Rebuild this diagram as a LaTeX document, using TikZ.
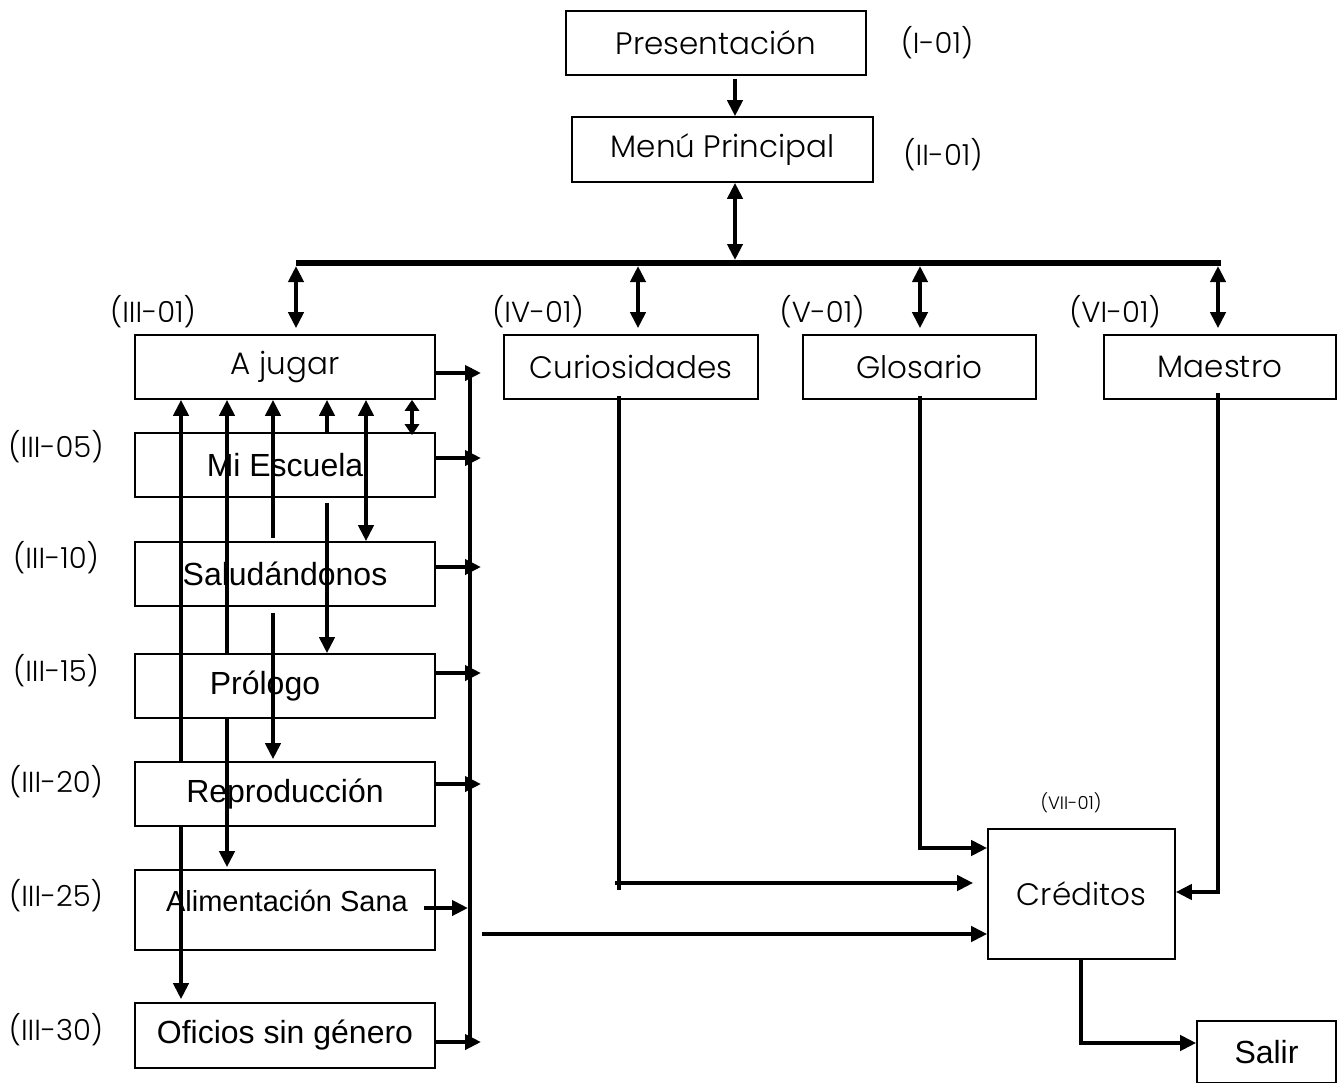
\documentclass[tikz,border=0pt]{standalone}
\usepackage{fontspec}
\newfontfamily\thinf{Poppins}[UprightFont={* Light}]
\newfontfamily\arialf{Liberation Sans}
\usetikzlibrary{arrows.meta}
\tikzset{
  box/.style={draw, line width=1.6pt, fill=white, inner sep=0pt, minimum width=#1},
  thintxt/.style={font=\thinf\fontsize{31}{36}\selectfont, inner sep=0pt},
  lbltxt/.style={font=\thinf\fontsize{29}{34}\selectfont, inner sep=0pt},
  smalltxt/.style={font=\thinf\fontsize{18}{22}\selectfont, inner sep=0pt},
  arialtxt/.style={font=\arialf\fontsize{32}{38}\selectfont, inner sep=0pt},
  conn/.style={line width=4pt},
  arr/.style={line width=4pt, -{Triangle[length=16pt,width=15pt]}},
  darr/.style={line width=4pt, {Triangle[length=16pt,width=15pt]}-{Triangle[length=16pt,width=15pt]}},
  sdarr/.style={line width=4pt, {Triangle[length=11pt,width=14pt]}-{Triangle[length=11pt,width=14pt]}},
}
\begin{document}
\begin{tikzpicture}[x=1pt,y=-1pt]
\useasboundingbox (0,0) rectangle (1344,1082);
% ---- boxes
\node[box=300pt, minimum height=64pt, thintxt] (pres) at (716,43) {Presentación};
\node[box=301pt, minimum height=65pt, thintxt] (menu) at (722.5,149.5) {Menú Principal};
\node[box=300pt, minimum height=64pt, thintxt] (ajugar) at (285,367) {A jugar};
\node[box=254pt, minimum height=64pt, thintxt] (curio) at (631,367) {Curiosidades};
\node[box=233pt, minimum height=64pt, thintxt] (glos) at (919.5,367) {Glosario};
\node[box=232pt, minimum height=64pt, thintxt] (maes) at (1220,367) {Maestro};
\node[box=300pt, minimum height=64pt, arialtxt] (mies) at (285,465) {Mi Escuela};
\node[box=300pt, minimum height=64pt, arialtxt] (salu) at (285,574) {Saludándonos};
\node[box=300pt, minimum height=64pt] (prol) at (285,686) {};
\node[arialtxt] (proltxt) at (265,686) {Prólogo};
\node[box=300pt, minimum height=64pt, arialtxt] (repr) at (285,794) {Reproducción};
\node[box=300pt, minimum height=80pt] (alim) at (285,910) {};
\node[font=\arialf\fontsize{29}{35}\selectfont, inner sep=0pt] (alimtxt) at (287,901) {Alimentación Sana};
\node[box=300pt, minimum height=65pt, arialtxt] (ofic) at (285,1035.5) {Oficios sin género};
\node[box=187pt, minimum height=130pt, thintxt] (cred) at (1081.5,894) {Créditos};
\node[box=139pt, minimum height=62pt, arialtxt] (salir) at (1266.5,1052) {Salir};
% ---- labels
\node[lbltxt] (l1) at (937,43) {(I-01)};
\node[lbltxt] (l2) at (943,155) {(II-01)};
\node[lbltxt] (l3) at (153,312) {(III-01)};
\node[lbltxt] (l4) at (538,312) {(IV-01)};
\node[lbltxt] (l5) at (822,312) {(V-01)};
\node[lbltxt] (l6) at (1115,312) {(VI-01)};
\node[lbltxt] (l7) at (56,447) {(III-05)};
\node[lbltxt] (l8) at (56,558) {(III-10)};
\node[lbltxt] (l9) at (56,671) {(III-15)};
\node[lbltxt] (l10) at (56,782) {(III-20)};
\node[lbltxt] (l11) at (56,896) {(III-25)};
\node[lbltxt] (l12) at (56,1030) {(III-30)};
\node[smalltxt] (l13) at (1071,803) {(VII-01)};
% ---- top connectors
\draw[arr, shorten <=3pt] ([xshift=19pt]pres.south) -- ([xshift=12.5pt]menu.north);
\coordinate (busL) at (296,263);
\coordinate (busM) at (735,263);
\coordinate (busR) at (1221,263);
\draw[line width=6pt] (busL) -- (busR);
\draw[darr, shorten >=3pt] ([xshift=12.5pt]menu.south) -- (busM);
\coordinate (b1) at (296,263);
\coordinate (b2) at (638,263);
\coordinate (b3) at (920,263);
\coordinate (b4) at (1218,263);
\draw[darr, shorten <=3pt, shorten >=6pt] (b1) -- (ajugar.north -| b1);
\draw[darr, shorten <=3pt, shorten >=6pt] (b2) -- (curio.north -| b2);
\draw[darr, shorten <=3pt, shorten >=6pt] (b3) -- (glos.north -| b3);
\draw[darr, shorten <=3pt, shorten >=6pt] (b4) -- (maes.north -| b4);
% ---- left column connectors
\coordinate (cA) at (181,0);
\coordinate (cB) at (227,0);
\coordinate (cC) at (273,0);
\coordinate (cD) at (327,0);
\coordinate (cE) at (366,0);
\coordinate (cF) at (412,0);
\draw[arr] (repr.north -| cA) -- (ajugar.south -| cA);
\draw[arr, shorten >=3pt] (repr.south -| cA) -- (ofic.north -| cA);
\draw[arr] (prol.north -| cB) -- (ajugar.south -| cB);
\draw[arr, shorten >=2pt] (prol.south -| cB) -- (alim.north -| cB);
\draw[arr, shorten <=3pt] (salu.north -| cC) -- (ajugar.south -| cC);
\draw[arr, shorten <=6pt, shorten >=2pt] (salu.south -| cC) -- (repr.north -| cC);
\draw[arr] (mies.north -| cD) -- (ajugar.south -| cD);
\draw[arr, shorten <=5pt] (mies.south -| cD) -- (prol.north -| cD);
\draw[darr] (ajugar.south -| cE) -- (salu.north -| cE);
\draw[sdarr, shorten >=-3pt] (ajugar.south -| cF) -- (mies.north -| cF);
% ---- right bus of the left column
\coordinate (tipx) at (481,0);
\coordinate (tipy) at (468,0);
\coordinate (vt) at (470,368);
\coordinate (vb) at (470,1046);
\draw[conn] (vt) -- (vb);
\coordinate (rA) at ([yshift=-6pt]ajugar.east);
\coordinate (rB) at ([yshift=7pt]mies.east);
\coordinate (rC) at ([yshift=7pt]salu.east);
\coordinate (rD) at ([yshift=13pt]prol.east);
\coordinate (rE) at ([yshift=10pt]repr.east);
\coordinate (rF) at ([xshift=-12pt,yshift=2pt]alim.east);
\coordinate (rG) at ([yshift=-6.5pt]ofic.east);
\draw[arr] (rA) -- (rA -| tipx);
\draw[arr] (rB) -- (rB -| tipx);
\draw[arr] (rC) -- (rC -| tipx);
\draw[arr] (rD) -- (rD -| tipx);
\draw[arr] (rE) -- (rE -| tipx);
\draw[arr] (rF) -- (rF -| tipy);
\draw[arr] (rG) -- (rG -| tipx);
% ---- to Créditos
\coordinate (k1) at (482,934);
\draw[arr] (k1) -- (k1 -| cred.west);
\coordinate (cu1) at (619,890);
\coordinate (cu2) at (615,883);
\draw[conn, shorten <=-4pt] (curio.south -| cu1) -- (cu1);
\draw[arr, shorten >=14pt] (cu2) -- (cu2 -| cred.west);
\coordinate (gl) at (920,848);
\draw[arr, line join=miter, shorten <=-4pt] (glos.south -| gl) -- (gl) -- (gl -| cred.west);
\coordinate (ma) at (1218,892);
\draw[arr, line join=miter, shorten <=-7pt] (maes.south -| ma) -- (ma) -- (ma -| cred.east);
\coordinate (sa) at (1081,1043);
\draw[arr, line join=miter] (cred.south -| sa) -- (sa) -- (sa -| salir.west);
\end{tikzpicture}
\end{document}
